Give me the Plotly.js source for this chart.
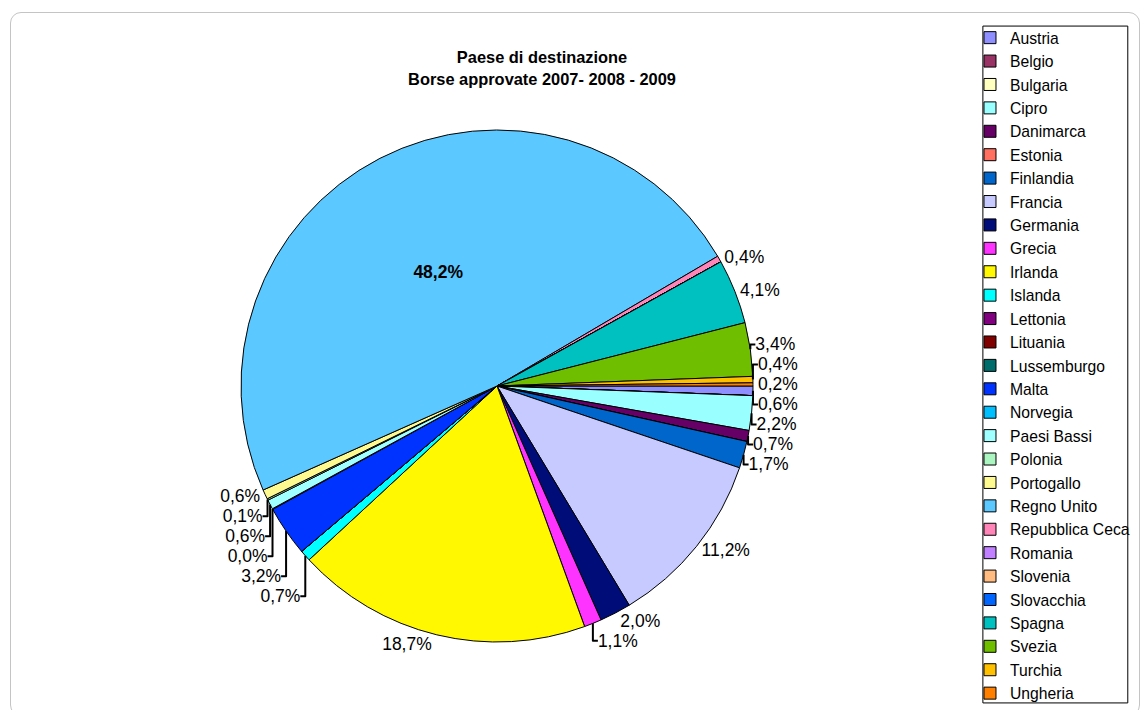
<!DOCTYPE html>
<html>
<head>
<meta charset="utf-8">
<script src="https://cdn.plot.ly/plotly-3.0.1.min.js"></script>
<style>
  html, body { margin: 0; padding: 0; background: #ffffff; }
  #wrap { position: relative; width: 1145px; height: 710px; }
  #chart { width: 1145px; height: 710px; }
  #frame { position: absolute; left: 10px; top: 12px; width: 1130px; height: 704px;
           border: 1.5px solid #c4c4c4; border-radius: 11px; pointer-events: none; box-sizing: border-box; }
</style>
</head>
<body>
<div id="wrap">
  <div id="chart"></div>
  <div id="frame"></div>
</div>
<script>
// Categories (legend order = slice order, clockwise from 3 o'clock)
const countries = [
  "Austria", "Belgio", "Bulgaria", "Cipro", "Danimarca", "Estonia", "Finlandia",
  "Francia", "Germania", "Grecia", "Irlanda", "Islanda", "Lettonia", "Lituania",
  "Lussemburgo", "Malta", "Norvegia", "Paesi Bassi", "Polonia", "Portogallo",
  "Regno Unito", "Repubblica Ceca", "Romania", "Slovenia", "Slovacchia",
  "Spagna", "Svezia", "Turchia", "Ungheria"
];
// Share of approved grants (%), estimated from the chart labels; blank categories = 0
const shares = [
  0.6, 0, 0, 2.18, 0.7, 0, 1.7,
  11.18, 1.98, 1.1, 18.68, 0.7, 0, 0,
  0, 3.18, 0.04, 0.6, 0.1, 0.6,
  48.2, 0.4, 0, 0, 0,
  4.08, 3.38, 0.4, 0.2
];
const sliceColors = [
  "#8F8FFF", "#993366", "#FFFFC0", "#99FFFF", "#660066", "#FF7060", "#0066CC",
  "#C6CAFF", "#000C78", "#FF33FF", "#FFF800", "#00FFFF", "#800080", "#800000",
  "#006B6B", "#0033FF", "#00BFFF", "#A0FFFF", "#AAF5C0", "#FFFA90",
  "#5BC8FF", "#FF85B8", "#C080FF", "#FFBB80", "#0066FF",
  "#00C0C0", "#6FBF00", "#FFC000", "#FF8000"
];
const biggest = Math.max(...shares);
const templates = shares.map(v => v === 0 ? "" : (v === biggest ? "<b>%{percent:.1%}</b>" : "%{percent:.1%}"));
const positions = shares.map(v => v === biggest ? "inside" : "outside");

const trace = {
  type: "pie",
  labels: countries,
  values: shares,
  sort: false,
  direction: "clockwise",
  rotation: 90,
  marker: { colors: sliceColors, line: { color: "#000000", width: 1 } },
  texttemplate: templates,
  textposition: positions,
  textfont: { family: "Liberation Sans, Arial, sans-serif", size: 17.5, color: "#000000" },
  insidetextorientation: "horizontal",
  hoverinfo: "label+percent",
  showlegend: true
};

const layout = {
  width: 1145,
  height: 710,
  separators: ",.",
  paper_bgcolor: "#ffffff",
  margin: { l: 241, r: 392, t: 130, b: 68, autoexpand: false },
  title: {
    text: "Paese di destinazione<br>Borse approvate 2007- 2008 - 2009",
    font: { family: "Liberation Sans, Arial, sans-serif", size: 16.4, color: "#000000", weight: "bold" },
    x: 0.4734, xref: "container", xanchor: "center",
    y: 0.911, yref: "container", yanchor: "top"
  },
  legend: {
    x: 1.4238, xanchor: "left",
    y: 1.213, yanchor: "top",
    maxheight: 700,
    font: { family: "Liberation Sans, Arial, sans-serif", size: 15.7, color: "#000000" },
    bgcolor: "rgba(0,0,0,0)",
    borderwidth: 0,
    traceorder: "normal",
    itemwidth: 30
  },
  shapes: [{
    type: "rect", xref: "paper", yref: "paper",
    x0: 1.449, x1: 1.732, y0: -0.119, y1: 1.203,
    line: { color: "#000000", width: 1 }, fillcolor: "rgba(0,0,0,0)"
  }]
};

Plotly.newPlot("chart", [trace], layout, { displayModeBar: false, staticPlot: true });
</script>
</body>
</html>
